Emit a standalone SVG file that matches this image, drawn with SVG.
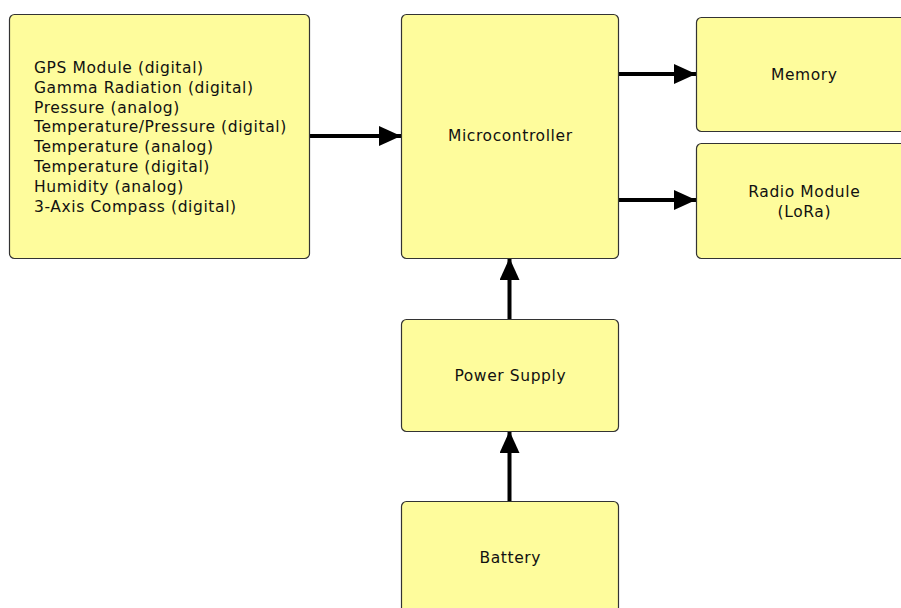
<svg xmlns="http://www.w3.org/2000/svg" width="901" height="608" viewBox="0 0 901 608">
<style>
.box{fill:#fefc9c;stroke:#333;stroke-width:1.2}
text{font-family:"DejaVu Sans","Liberation Sans",sans-serif;font-size:15.5px;letter-spacing:0.6px;fill:#111}
.c{text-anchor:middle}
.edge{stroke:#000;stroke-width:4;fill:none}
</style>
<defs>
<marker id="ah" markerUnits="userSpaceOnUse" markerWidth="22" markerHeight="20" refX="22" refY="10" orient="auto">
<path d="M0,0 L22,10 L0,20 Z" fill="#000"/>
</marker>
</defs>
<rect width="901" height="608" fill="#fff"/>
<g id="connectors">
<line class="edge" x1="309" y1="136" x2="401" y2="136" marker-end="url(#ah)"/>
<line class="edge" x1="618" y1="74" x2="696" y2="74" marker-end="url(#ah)"/>
<line class="edge" x1="618" y1="200" x2="696" y2="200" marker-end="url(#ah)"/>
<line class="edge" x1="509.5" y1="319" x2="509.5" y2="258" marker-end="url(#ah)"/>
<line class="edge" x1="509.5" y1="502" x2="509.5" y2="431" marker-end="url(#ah)"/>
</g>
<g id="sensors">
<rect class="box" x="9.5" y="14.5" width="300" height="244" rx="5"/>
<text x="34" y="73">GPS Module (digital)</text>
<text x="34" y="92.8">Gamma Radiation (digital)</text>
<text x="34" y="112.6">Pressure (analog)</text>
<text x="34" y="132.4">Temperature/Pressure (digital)</text>
<text x="34" y="152.2">Temperature (analog)</text>
<text x="34" y="172">Temperature (digital)</text>
<text x="34" y="191.8">Humidity (analog)</text>
<text x="34" y="211.6">3-Axis Compass (digital)</text>
</g>
<g id="microcontroller">
<rect class="box" x="401.5" y="14.5" width="217" height="244" rx="5"/>
<text class="c" x="510.3" y="141">Microcontroller</text>
</g>
<g id="memory">
<rect class="box" x="696.5" y="17.5" width="220" height="114" rx="5"/>
<text class="c" x="804.3" y="80">Memory</text>
</g>
<g id="radio">
<rect class="box" x="696.5" y="143.5" width="220" height="115" rx="5"/>
<text class="c" x="804.3" y="197">Radio Module</text>
<text class="c" x="804.3" y="217">(LoRa)</text>
</g>
<g id="power">
<rect class="box" x="401.5" y="319.5" width="217" height="112" rx="5"/>
<text class="c" x="510.3" y="381">Power Supply</text>
</g>
<g id="battery">
<rect class="box" x="401.5" y="501.5" width="217" height="130" rx="5"/>
<text class="c" x="510.3" y="563">Battery</text>
</g>
</svg>
